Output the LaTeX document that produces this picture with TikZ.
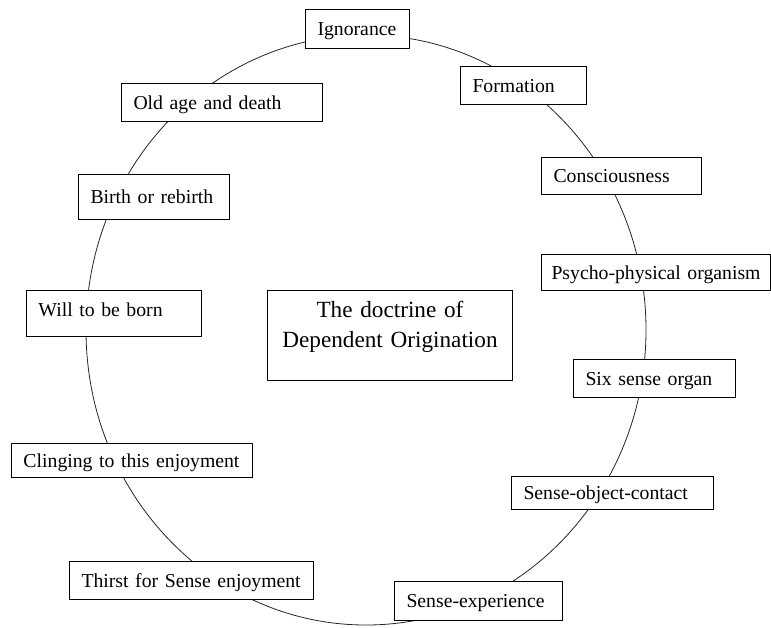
\documentclass[tikz,border=0pt]{standalone}
\usepackage{fontspec}
\setmainfont{Liberation Serif}
\begin{document}
\begin{tikzpicture}[x=0.75pt, y=-0.75pt,
	stage/.style={draw, fill=white, line width=0.75pt, anchor=north west, align=left, inner xsep=9pt, inner ysep=0pt, text height=9.8pt, text depth=0pt, font=\fontsize{14.8pt}{18pt}\selectfont}]
	\useasboundingbox (0,0) rectangle (771,628);

	\draw[line width=0.6pt, gray!30!black] (366,330) ellipse [x radius=280, y radius=295];

	\node[stage, text width=60pt, minimum height=29.25pt] (ignorance) at (305,9) {Ignorance};
	\node[stage, text width=76.5pt, minimum height=28.5pt] (formation) at (460,66) {Formation};
	\node[stage, text width=102pt, minimum height=27.75pt] (consciousness) at (541,157) {Consciousness};
	\node[stage, text width=157pt, inner xsep=7.5pt, minimum height=27pt] (organism) at (541,254) {Psycho-physical organism};
	\node[stage, text width=103.5pt, minimum height=28.5pt] (senseorgan) at (573,359) {Six sense organ};
	\node[stage, text width=133.5pt, minimum height=24.75pt] (contact) at (511,476) {Sense-object-contact};
	\node[stage, text width=108pt, minimum height=29.25pt] (experience) at (394,581) {Sense-experience};
	\node[stage, text width=165pt, minimum height=28.5pt] (thirst) at (69,561) {Thirst for Sense enjoyment};
	\node[stage, text width=162.75pt, minimum height=25.5pt] (clinging) at (11,443) {Clinging to this enjoyment};
	\node[stage, text width=113.25pt, minimum height=34.5pt, text depth=5pt] (willborn) at (26,290) {Will to be born};
	\node[stage, text width=95.25pt, minimum height=33.75pt] (birth) at (78,174) {Birth or rebirth};
	\node[stage, text width=132.75pt, minimum height=28.5pt] (oldage) at (121,83) {Old age and death};

	\node[draw, fill=white, line width=0.75pt, anchor=north west, align=center, text width=183.75pt, inner xsep=0pt, inner ysep=8pt, font=\fontsize{17.4pt}{22.5pt}\selectfont] (doctrine) at (267,290) {The doctrine of\\Dependent Origination\rule[-17pt]{0pt}{17pt}};

\end{tikzpicture}
\end{document}
